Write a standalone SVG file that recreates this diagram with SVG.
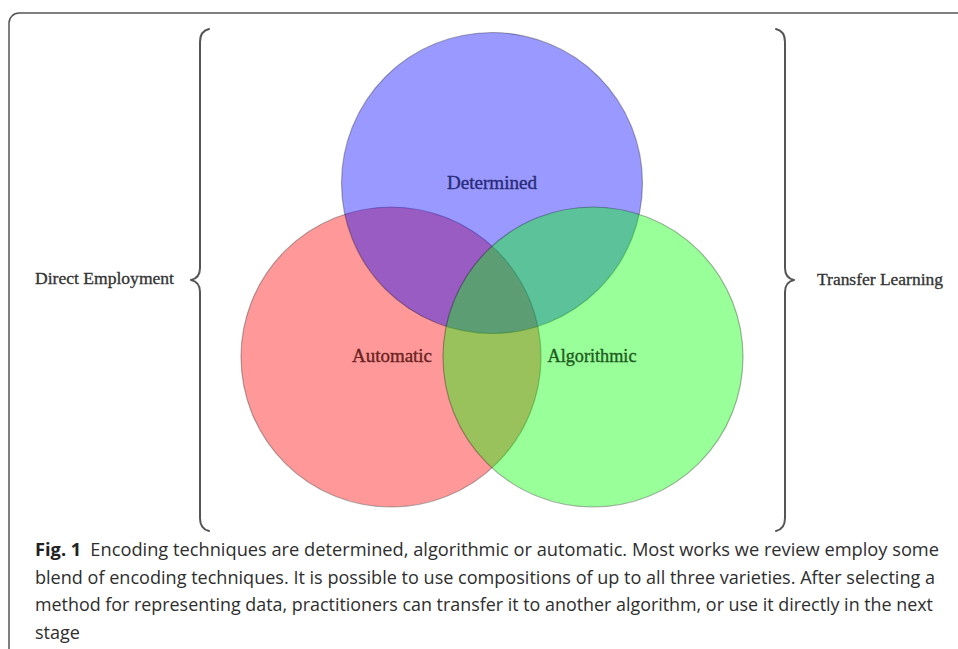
<svg xmlns="http://www.w3.org/2000/svg" width="958" height="649" viewBox="0 0 958 649">
<style>
.set{fill-opacity:0.4;stroke:#000;stroke-opacity:0.3;stroke-width:1.2}
.lbl{font-family:"Liberation Serif","Times New Roman",serif;font-size:18px;text-anchor:middle;stroke-width:0.35}
.side{font-family:"Liberation Serif","Times New Roman",serif;font-size:16px;fill:#333;stroke:#333;stroke-width:0.3}
.brace{fill:none;stroke:#555;stroke-width:2;stroke-linecap:round;stroke-linejoin:round}
.cap{font-family:"Open Sans","Noto Sans","Liberation Sans",sans-serif;font-size:18px;fill:#2e2e2e}
</style>
<rect width="958" height="649" fill="#fff"/>
<path d="M9,649 V23 A10,10 0 0 1 19,13 H958" fill="none" stroke="#555" stroke-width="1.5"/>
<g id="node-automatic">
<circle class="set" cx="391" cy="357" r="150" fill="#ff0000"/>
</g>
<g id="node-determined">
<circle class="set" cx="492" cy="183" r="150.5" fill="#0000ff"/>
</g>
<g id="node-algorithmic">
<circle class="set" cx="593" cy="357" r="150" fill="#00ff00"/>
</g>
<g id="labels">
<text class="lbl" x="492" y="189" fill="#2a2a78" stroke="#2a2a78" textLength="90" lengthAdjust="spacingAndGlyphs">Determined</text>
<text class="lbl" x="392" y="362" fill="#6a2222" stroke="#6a2222" textLength="80" lengthAdjust="spacingAndGlyphs">Automatic</text>
<text class="lbl" x="592" y="362" fill="#1f5a22" stroke="#1f5a22" textLength="89" lengthAdjust="spacingAndGlyphs">Algorithmic</text>
</g>
<g id="direct-employment">
<path class="brace" d="M209,29 Q200,31 200,42 V268 Q200,278 191,280 Q200,282 200,292 V518 Q200,529 209,531"/>
<text class="side" x="35" y="284" textLength="139" lengthAdjust="spacingAndGlyphs">Direct Employment</text>
</g>
<g id="transfer-learning">
<path class="brace" d="M776,29 Q785,31 785,42 V268 Q785,278 794,280 Q785,282 785,292 V518 Q785,529 776,531"/>
<text class="side" x="817" y="285" textLength="126" lengthAdjust="spacingAndGlyphs">Transfer Learning</text>
</g>
<g id="caption">
<text class="cap" x="35" y="556" textLength="904" lengthAdjust="spacingAndGlyphs"><tspan font-weight="bold" fill="#222">Fig. 1</tspan><tspan dx="9">Encoding techniques are determined, algorithmic or automatic. Most works we review employ some</tspan></text>
<text class="cap" x="35" y="584" textLength="900" lengthAdjust="spacingAndGlyphs">blend of encoding techniques. It is possible to use compositions of up to all three varieties. After selecting a</text>
<text class="cap" x="35" y="611" textLength="898" lengthAdjust="spacingAndGlyphs">method for representing data, practitioners can transfer it to another algorithm, or use it directly in the next</text>
<text class="cap" x="35" y="639">stage</text>
</g>
</svg>
